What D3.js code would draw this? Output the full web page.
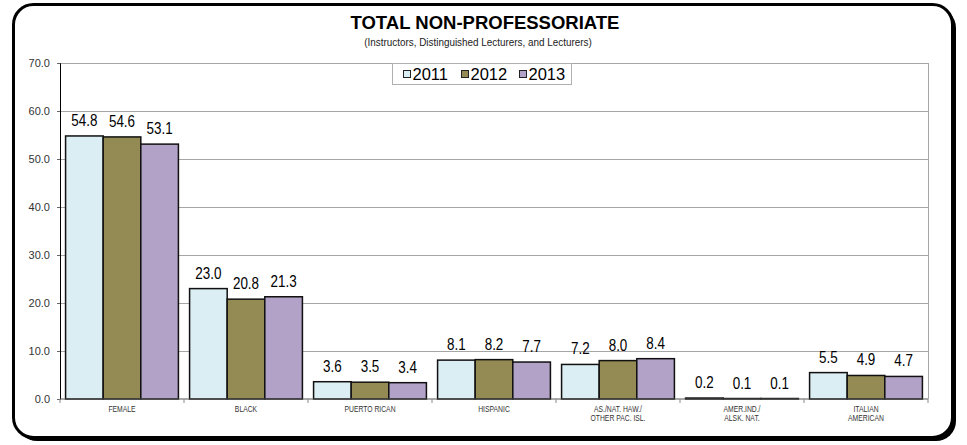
<!DOCTYPE html>
<html>
<head>
<meta charset="utf-8">
<script src="https://cdn.jsdelivr.net/npm/d3@7/dist/d3.min.js"></script>
<style>
  html, body { margin: 0; padding: 0; background: #ffffff; }
  svg { display: block; }
</style>
</head>
<body>
<svg id="chart" width="967" height="445"></svg>
<script>
const categories = [
  ["FEMALE"],
  ["BLACK"],
  ["PUERTO RICAN"],
  ["HISPANIC"],
  ["AS./NAT. HAW./", "OTHER PAC. ISL."],
  ["AMER.IND./", "ALSK. NAT."],
  ["ITALIAN", "AMERICAN"]
];
const seriesNames = ["2011", "2012", "2013"];
const values2011 = [54.8, 23.0, 3.6, 8.1, 7.2, 0.2, 5.5];
const values2012 = [54.6, 20.8, 3.5, 8.2, 8.0, 0.1, 4.9];
const values2013 = [53.1, 21.3, 3.4, 7.7, 8.4, 0.1, 4.7];
const yTicks = [0, 10, 20, 30, 40, 50, 60, 70];
const titleText = "TOTAL NON-PROFESSORIATE";
const subtitleText = "(Instructors, Distinguished Lecturers, and Lecturers)";

const colors = ["#DAEEF3", "#948A54", "#B3A2C7"];
const sans = "'Liberation Sans', Arial, sans-serif";

const svg = d3.select("#chart");

// Frame with shadow
svg.append("rect").attr("x", 17).attr("y", 8).attr("width", 939).attr("height", 433)
  .attr("rx", 20).attr("fill", "#000");
svg.append("rect").attr("x", 13.5).attr("y", 4.5).attr("width", 939).attr("height", 433)
  .attr("rx", 20).attr("fill", "#fff").attr("stroke", "#000").attr("stroke-width", 3);

// Titles
svg.append("text").attr("x", 485).attr("y", 29).attr("text-anchor", "middle")
  .style("font-family", sans).style("font-weight", "bold").style("font-size", "18.5px")
  .attr("fill", "#000").text(titleText);
svg.append("text").attr("transform", "translate(478,46) scale(0.9,1)").attr("text-anchor", "middle")
  .style("font-family", sans).style("font-size", "11px")
  .attr("fill", "#222").text(subtitleText);

const m = { left: 60, right: 928, top: 63, bottom: 399 };
const W = m.right - m.left, H = m.bottom - m.top;
const g = svg.append("g").attr("transform", `translate(${m.left},${m.top})`);

const idx = categories.map((d, i) => i);
const x0 = d3.scaleBand().domain(idx).range([0, W]).paddingInner(0.09).paddingOuter(0.045);
const x1 = d3.scaleBand().domain(seriesNames).range([0, x0.bandwidth()]);
const y = d3.scaleLinear().domain([0, 70]).range([H, 0]);

// gridlines
g.append("g").selectAll("line").data(yTicks.filter(t => t > 0)).join("line")
  .attr("x1", 0).attr("x2", W).attr("y1", d => y(d)).attr("y2", d => y(d))
  .attr("stroke", "#a6a6a6").attr("stroke-width", 1).attr("shape-rendering", "crispEdges");
// right border
g.append("line").attr("x1", W).attr("x2", W).attr("y1", 0).attr("y2", H)
  .attr("stroke", "#a6a6a6").attr("shape-rendering", "crispEdges");

// bars
const allSeries = [values2011, values2012, values2013];
const data = [];
idx.forEach(i => seriesNames.forEach((s, k) => data.push({ i, s, k, v: allSeries[k][i] })));

g.append("g").selectAll("rect").data(data).join("rect")
  .attr("x", d => x0(d.i) + x1(d.s))
  .attr("y", d => y(d.v))
  .attr("width", x1.bandwidth())
  .attr("height", d => H - y(d.v))
  .attr("fill", d => colors[d.k])
  .attr("stroke", "#111").attr("stroke-width", 1.5);

// value labels (narrowed)
g.append("g").selectAll("text").data(data).join("text")
  .attr("transform", d => `translate(${x0(d.i) + x1(d.s) + x1.bandwidth() / 2},${y(d.v) - 10}) scale(0.84,1)`)
  .attr("text-anchor", "middle")
  .style("font-family", sans).style("font-size", "16px")
  .attr("fill", "#000")
  .text(d => d.v.toFixed(1));

// y axis
const yAxis = d3.axisLeft(y).tickValues(yTicks).tickFormat(d3.format(".1f")).tickSize(3).tickPadding(7);
const ya = g.append("g").call(yAxis);
ya.select(".domain").attr("stroke", "#000").attr("stroke-width", 1);
ya.selectAll(".tick line").attr("stroke", "#666");
ya.selectAll("text").style("font-family", sans).style("font-size", "11px").attr("fill", "#333");

// x axis
g.append("line").attr("x1", 0).attr("x2", W).attr("y1", H).attr("y2", H)
  .attr("stroke", "#555").attr("stroke-width", 1);
const bounds = d3.range(0, categories.length + 1).map(i => i * x0.step());
g.append("g").selectAll("line").data(bounds).join("line")
  .attr("x1", d => d).attr("x2", d => d).attr("y1", H).attr("y2", H + 4)
  .attr("stroke", "#888");

const cl = g.append("g").selectAll("text").data(idx).join("text")
  .attr("transform", i => `translate(${x0(i) + x0.bandwidth() / 2},${H + 13}) scale(0.8,1)`)
  .attr("text-anchor", "middle")
  .style("font-family", sans).style("font-size", "8.5px")
  .attr("fill", "#333");
cl.each(function(i) {
  const t = d3.select(this);
  categories[i].forEach((line, j) => {
    t.append("tspan").attr("x", 0).attr("dy", j === 0 ? 0 : 9).text(line);
  });
});

// legend
const lg = svg.append("g");
lg.append("rect").attr("x", 392.5).attr("y", 63.5).attr("width", 179).attr("height", 21)
  .attr("fill", "#fff").attr("stroke", "#b0b0b0");
const legX = d3.scaleOrdinal().domain(seriesNames).range([403.5, 461.5, 519.5]);
const items = lg.selectAll("g.item").data(seriesNames).join("g").attr("class", "item");
items.append("rect").attr("x", d => legX(d)).attr("y", 70.5).attr("width", 7).attr("height", 7)
  .attr("fill", (d, k) => colors[k]).attr("stroke", "#222").attr("stroke-width", 1);
items.append("text").attr("x", d => legX(d) + 9).attr("y", 79.5)
  .style("font-family", sans).style("font-size", "16.5px").attr("fill", "#000").text(d => d);
</script>
</body>
</html>
